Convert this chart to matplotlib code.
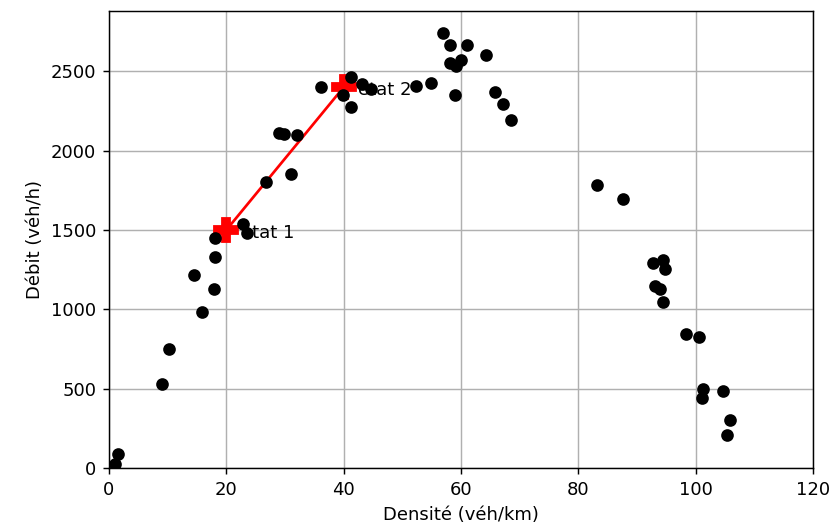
import matplotlib
matplotlib.use("Agg")
import matplotlib.pyplot as plt

densite = [1.0, 1.6, 9.0, 10.3, 14.5, 15.8, 17.9, 18.1, 18.1, 22.9, 23.5,
           26.7, 28.9, 29.8, 31.0, 32.1, 36.2, 39.9, 41.2, 41.3, 43.2, 44.6,
           52.3, 54.9, 57.0, 58.1, 61.0, 64.2, 58.2, 59.1, 60.0, 58.9, 65.8,
           67.1, 68.6, 83.1, 87.6, 92.7, 94.5, 94.7, 93.0, 94.0, 94.5, 98.3,
           100.5, 101.2, 101.0, 104.7, 105.9, 105.4]
debit = [28, 88, 529, 752, 1214, 980, 1126, 1332, 1447, 1537, 1479,
         1802, 2113, 2105, 1851, 2098, 2399, 2350, 2466, 2272, 2420, 2388,
         2407, 2428, 2744, 2664, 2664, 2605, 2552, 2534, 2571, 2349, 2368,
         2297, 2194, 1786, 1696, 1289, 1310, 1253, 1148, 1131, 1043, 844,
         827, 500, 441, 485, 304, 206]

etat_x = [20, 40]
etat_y = [1500, 2400]
etat_labels = ["état 1", "état 2"]

fig = plt.figure(figsize=(836/130, 532/130), dpi=130)
ax = fig.add_axes([109/836, 1-468/532, (813-109)/836, (468-11)/532])
ax.set_axisbelow(True)
ax.grid(True)
ax.plot(etat_x, etat_y, color="red", marker="P", markersize=13, zorder=2)
ax.scatter(densite, debit, color="black", zorder=2.5)
for x, y, lab in zip(etat_x, etat_y, etat_labels):
    ax.text(x + 2.5, y - 20, lab, va="center", ha="left", zorder=3)
ax.set_xlim(0, 120)
ax.set_ylim(0, 2880)
ax.set_xticks([0, 20, 40, 60, 80, 100, 120])
ax.set_yticks([0, 500, 1000, 1500, 2000, 2500])
ax.set_xlabel("Densité (véh/km)")
ax.set_ylabel("Débit (véh/h)")
fig.savefig("out.png", dpi=130)
